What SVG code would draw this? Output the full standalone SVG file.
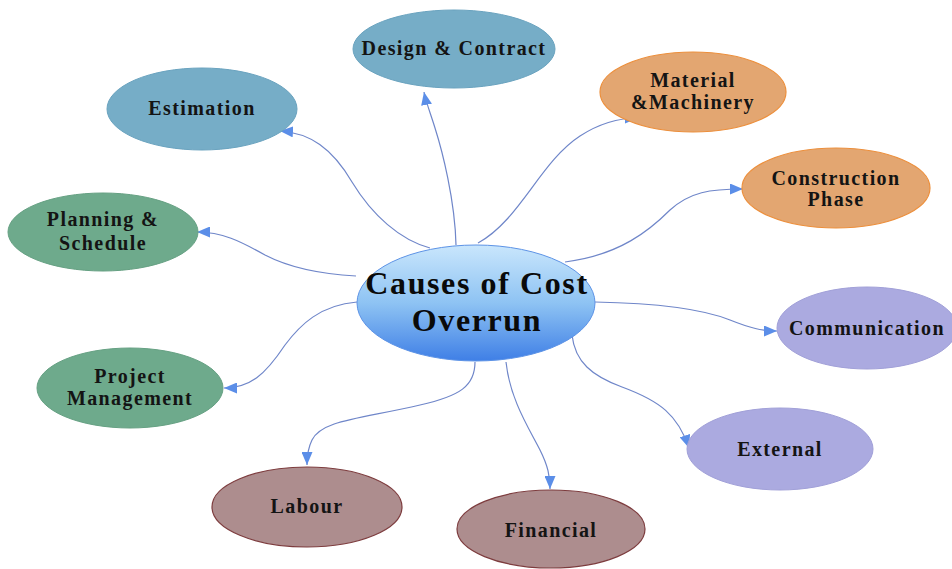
<svg xmlns="http://www.w3.org/2000/svg" width="952" height="569" viewBox="0 0 952 569">
<defs>
<style>
.lbl{font-family:"Liberation Serif","Times New Roman",serif;font-weight:bold;font-size:20px;fill:#141414;text-anchor:middle;letter-spacing:1.4px}
.big{font-family:"Liberation Serif","Times New Roman",serif;font-weight:bold;font-size:32px;fill:#0a0a0a;text-anchor:middle;letter-spacing:1.6px}
.conn{fill:none;stroke:#6f86c9;stroke-width:1.2;marker-end:url(#arr)}
.blue{fill:#76adc7;stroke:#6aa3bf;stroke-width:1}
.orange{fill:#e3a671;stroke:#ec8f3c;stroke-width:1.2}
.green{fill:#6eaa8c;stroke:#65a082;stroke-width:1}
.lav{fill:#abaae0;stroke:#a1a0d8;stroke-width:1}
.rose{fill:#ad8d8e;stroke:#7d3c3e;stroke-width:1.2}
</style>
<marker id="arr" markerUnits="userSpaceOnUse" markerWidth="13" markerHeight="11" refX="13" refY="5.5" orient="auto">
<path d="M0,0 L13,5.5 L0,11 z" fill="#5b8ee8"/>
</marker>
<linearGradient id="cg" x1="0" y1="0" x2="0" y2="1">
<stop offset="0" stop-color="#c9e6fc"/>
<stop offset="0.5" stop-color="#8ec3f3"/>
<stop offset="1" stop-color="#3f7fe6"/>
</linearGradient>
</defs>
<rect width="952" height="569" fill="#ffffff"/>
<g id="connectors">
<path class="conn" d="M430,248 C400,240 372,215 352,182 C332,148 310,133 280,131"/>
<path class="conn" d="M456,245 C455,200 442,150 435,128 C430,112 426,102 424,92"/>
<path class="conn" d="M478,243 C520,220 540,162 580,136 C600,123 620,118 638,118"/>
<path class="conn" d="M565,262 C620,255 650,230 670,210 C690,192 710,189 743,189"/>
<path class="conn" d="M595,302 C650,303 700,308 730,320 C750,328 762,331 777,331"/>
<path class="conn" d="M572,335 C575,362 592,376 622,387 C660,401 678,415 689,448"/>
<path class="conn" d="M506,362 C510,400 530,430 540,450 C548,466 550,476 550,489"/>
<path class="conn" d="M475,362 C475,386 460,396 420,405 C360,419 322,420 312,440 C308,448 307,455 307,465"/>
<path class="conn" d="M357,302 C320,305 300,325 285,345 C265,375 250,388 224,388"/>
<path class="conn" d="M356,276 C320,274 290,268 265,255 C240,241 222,232 197,232"/>
</g>
<g id="center">
<ellipse cx="476" cy="303" rx="119" ry="58" fill="url(#cg)" stroke="#5d93e6" stroke-width="1"/>
<text class="big" x="477" y="294">Causes of Cost</text>
<text class="big" x="477" y="331">Overrun</text>
</g>
<g id="estimation">
<ellipse class="blue" cx="202" cy="109" rx="95" ry="41"/>
<text class="lbl" x="202" y="115">Estimation</text>
</g>
<g id="design-contract">
<ellipse class="blue" cx="454" cy="49" rx="101" ry="39"/>
<text class="lbl" x="454" y="55">Design &amp; Contract</text>
</g>
<g id="material-machinery">
<ellipse class="orange" cx="693" cy="92" rx="93" ry="40"/>
<text class="lbl" x="693" y="87">Material</text>
<text class="lbl" x="693" y="109">&amp;Machinery</text>
</g>
<g id="construction-phase">
<ellipse class="orange" cx="836" cy="188" rx="94" ry="40"/>
<text class="lbl" x="836" y="185">Construction</text>
<text class="lbl" x="836" y="206">Phase</text>
</g>
<g id="communication">
<ellipse class="lav" cx="867" cy="328" rx="90" ry="41"/>
<text class="lbl" x="867" y="335">Communication</text>
</g>
<g id="external">
<ellipse class="lav" cx="780" cy="449" rx="93" ry="41"/>
<text class="lbl" x="780" y="456">External</text>
</g>
<g id="financial">
<ellipse class="rose" cx="551" cy="529" rx="94" ry="39"/>
<text class="lbl" x="551" y="537">Financial</text>
</g>
<g id="labour">
<ellipse class="rose" cx="307" cy="507" rx="95" ry="40"/>
<text class="lbl" x="307" y="513">Labour</text>
</g>
<g id="project-management">
<ellipse class="green" cx="130" cy="388" rx="93" ry="40"/>
<text class="lbl" x="130" y="383">Project</text>
<text class="lbl" x="130" y="405">Management</text>
</g>
<g id="planning-schedule">
<ellipse class="green" cx="103" cy="232" rx="95" ry="39"/>
<text class="lbl" x="103" y="226">Planning &amp;</text>
<text class="lbl" x="103" y="250">Schedule</text>
</g>
</svg>
